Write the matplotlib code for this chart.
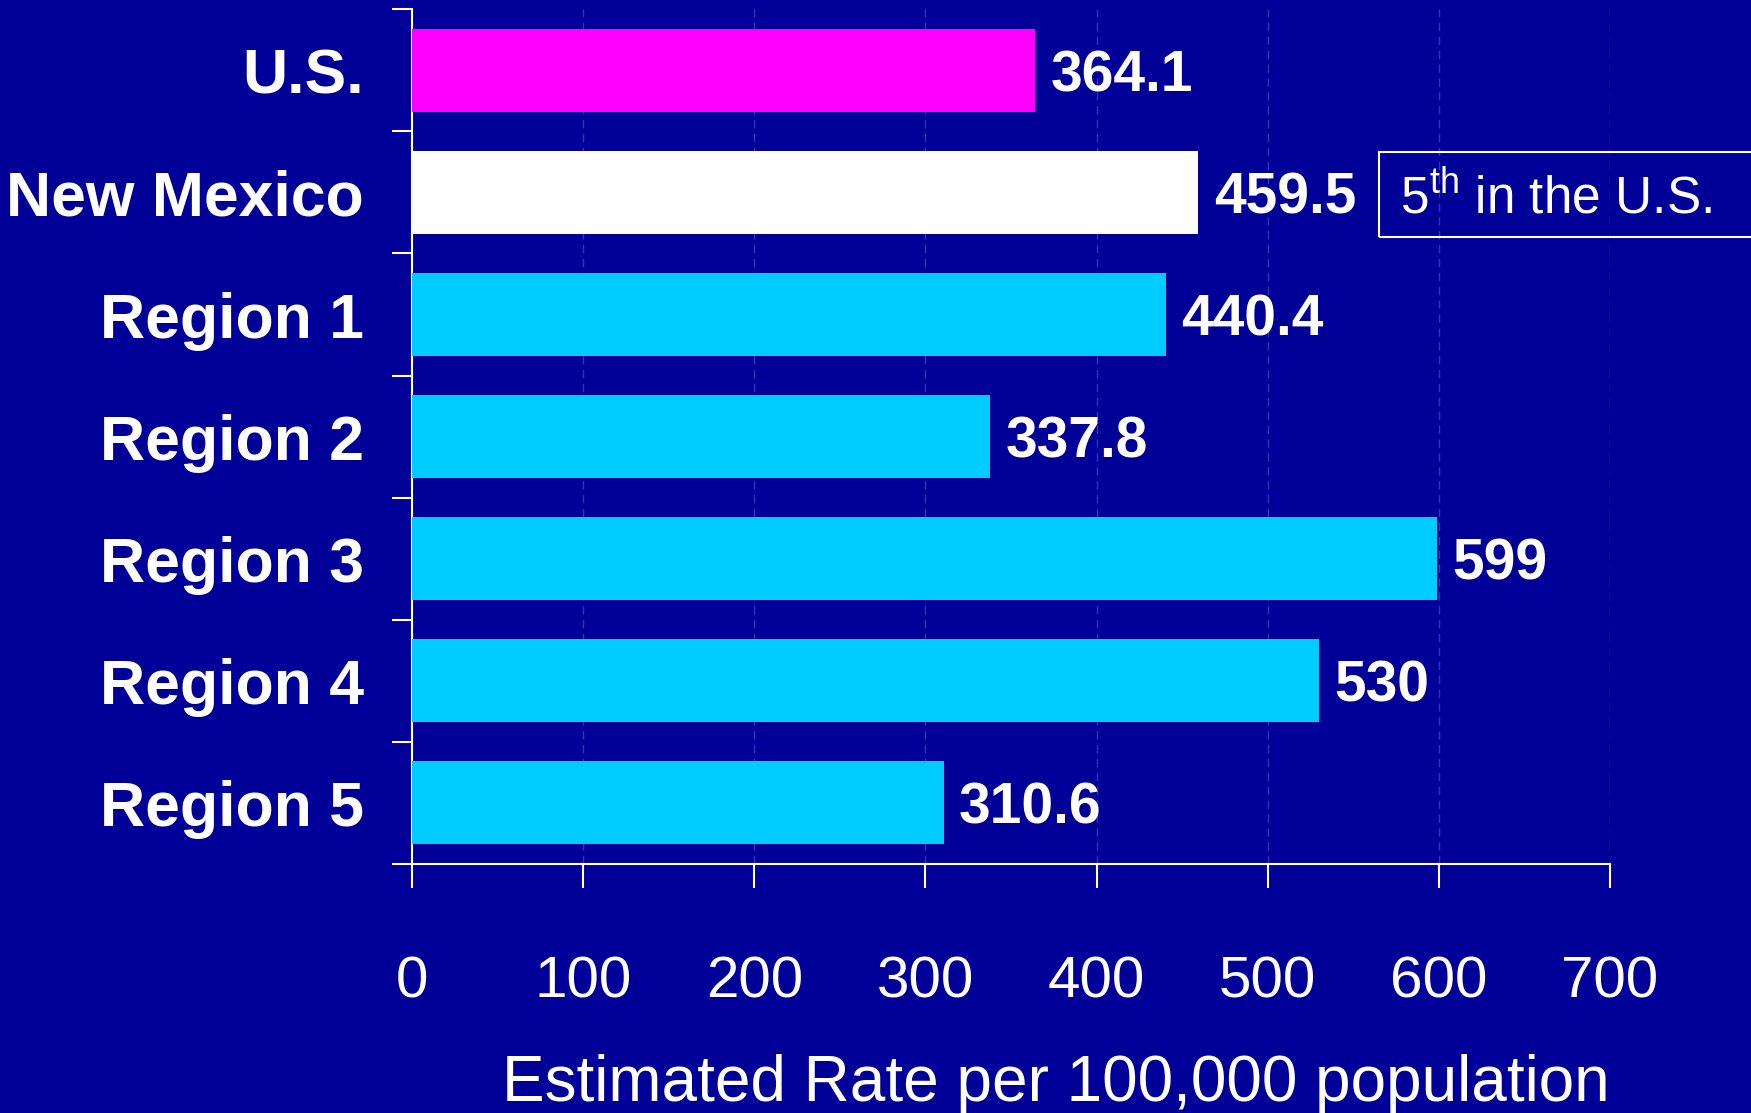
import matplotlib
matplotlib.use("Agg")
import matplotlib.pyplot as plt
from matplotlib.patches import Rectangle
import numpy as np

# chart data
labels = ["U.S.", "New Mexico", "Region 1", "Region 2", "Region 3", "Region 4", "Region 5"]
rates  = [364.1, 459.5, 440.4, 337.8, 599, 530, 310.6]
value_text = ["364.1", "459.5", "440.4", "337.8", "599", "530", "310.6"]
xticks = [0, 100, 200, 300, 400, 500, 600, 700]
rank_note = r"5$^{\mathrm{th}}$ in the U.S."

bg      = "#000099"
cyan    = "#00CCFF"
colors  = ["#FF00FF", "#FFFFFF"] + [cyan]*5

plt.rcParams['font.family'] = ['Liberation Sans', 'DejaVu Sans']
plt.rcParams['mathtext.fontset'] = 'custom'
plt.rcParams['mathtext.rm'] = 'Liberation Sans'

fig = plt.figure(figsize=(17.51, 11.13), dpi=100, facecolor=bg)
ax  = fig.add_axes([0.2353, 0.2237, 0.6842, 0.768])
ax.set_facecolor(bg)

y = np.arange(len(labels))
ax.barh(y, rates, height=0.68, color=colors, zorder=3)

# value labels at bar ends
for yy, v, t in zip(y, rates, value_text):
    ax.annotate(t, (v, yy), xytext=(11, -15), textcoords="offset points",
                ha="left", va="baseline", fontsize=41, fontweight="bold", color="white")

ax.set_xlim(0, 700)
ax.set_ylim(len(labels)-0.5, -0.5)

# y ticks at category boundaries, labels at centres
ax.set_yticks(np.arange(len(labels)+1)-0.5)
ax.set_yticklabels([])
ax.set_yticks(y, minor=True)
ax.set_yticklabels(labels, minor=True, fontsize=45, fontweight="bold", color="white")
ax.tick_params(axis="y", which="major", length=14.5, width=1.5, color="white", direction="out")
ax.tick_params(axis="y", which="minor", length=0, pad=34.5)

ax.set_xticks(xticks)
ax.set_xticklabels([str(x) for x in xticks], fontsize=42, color="white")
ax.tick_params(axis="x", length=17, width=1.5, color="white", direction="out", pad=49)

ax.grid(axis="x", color="#3434b0", linestyle=(0, (6, 4)), linewidth=1, zorder=0)
ax.set_axisbelow(True)

for s in ["top", "right"]:
    ax.spines[s].set_visible(False)
for s in ["left", "bottom"]:
    ax.spines[s].set_color("white")
    ax.spines[s].set_linewidth(1.5)

ax.set_xlabel("Estimated Rate per 100,000 population", fontsize=46, color="white", loc="right")
ax.xaxis.set_label_coords(1.0, -0.222)
ax.xaxis.label.set_va("top")

# rank note box, running off the right edge
fig.patches.append(Rectangle((0.7875, 0.787), 0.3, 0.0764, transform=fig.transFigure,
                             facecolor="none", edgecolor="white", linewidth=1.5))
fig.text(0.7995, 0.8086, rank_note, fontsize=37, color="white", ha="left", va="baseline")

fig.savefig("out.png", dpi=100, facecolor=bg)
